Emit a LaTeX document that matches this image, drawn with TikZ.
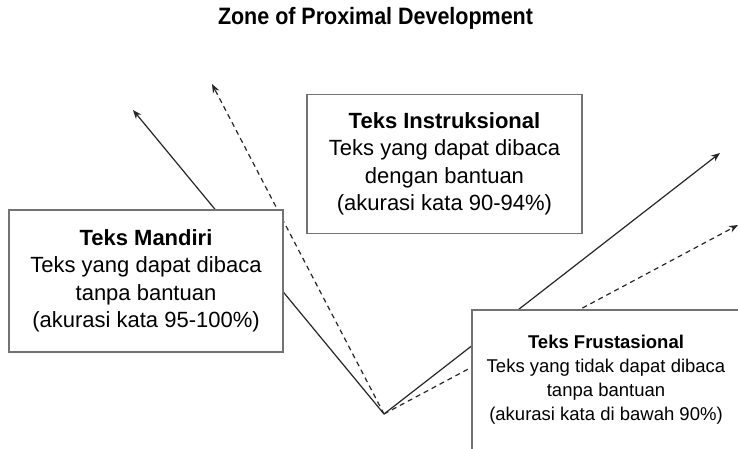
\documentclass[tikz,border=0pt]{standalone}
\usepackage{fontspec}
\setmainfont{Liberation Sans}
\usetikzlibrary{arrows.meta}
\begin{document}
\begin{tikzpicture}[x=1pt,y=-1pt,
  conn/.style={draw=black!85, line width=1.2pt, -{Stealth[length=9pt,width=7pt]}},
  dconn/.style={conn, dash pattern=on 5pt off 4pt},
  box/.style={draw=black!55, line width=1.3pt, fill=white, rectangle, inner sep=0pt, align=center},
  bigtext/.style={font=\fontsize{22}{27.5}\selectfont},
  smalltext/.style={font=\fontsize{18.5}{24}\selectfont}]
\useasboundingbox (0,0) rectangle (738,449);
\node (title) at (375.5,18) {\scalebox{0.906}[1]{\fontsize{23.7}{28}\selectfont\bfseries Zone of Proximal Development}};
\coordinate (V) at (384,414);
\coordinate (tA) at (133,110);
\coordinate (tB) at (212,84);
\coordinate (tC) at (720,153);
\coordinate (tD) at (738,225);
\draw[conn] (V) -- (tA);
\draw[dconn] (V) -- (tB);
\draw[conn] (V) -- (tC);
\draw[dconn] (V) -- (tD);
\node[box, bigtext, minimum width=274pt, minimum height=142pt] (mandiri) at (146,281)
  {\textbf{Teks Mandiri}\\Teks yang dapat dibaca\\tanpa bantuan\\(akurasi kata 95-100\%)};
\node[box, bigtext, minimum width=275pt, minimum height=139pt] (instr) at (444.5,164)
  {\textbf{Teks Instruksional}\\Teks yang dapat dibaca\\dengan bantuan\\(akurasi kata 90-94\%)};
\node[box, smalltext, minimum width=268pt, minimum height=140pt] (frust) at (606,380)
  {\textbf{Teks Frustasional}\\Teks yang tidak dapat dibaca\\tanpa bantuan\\(akurasi kata di bawah 90\%)};
\end{tikzpicture}
\end{document}
